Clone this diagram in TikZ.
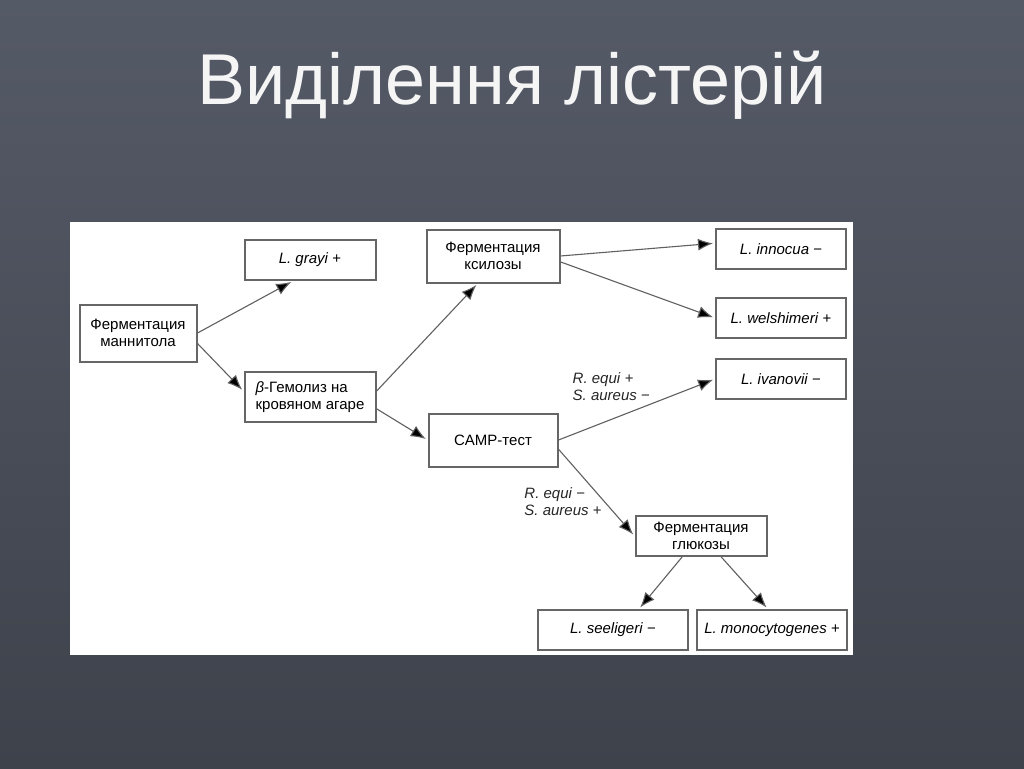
\documentclass[tikz,border=0pt]{standalone}
\usepackage{fontspec}
\setmainfont{Liberation Sans}
\usetikzlibrary{positioning}
\usetikzlibrary{arrows.meta}
\definecolor{boardtop}{HTML}{555A67}
\definecolor{boardbot}{HTML}{3E424B}
\definecolor{boxline}{HTML}{666666}
\definecolor{arrline}{HTML}{606060}
\tikzstyle{box} = [rectangle,draw=boxline,line width=2pt,fill=white,align=center,minimum width=130pt,minimum height=40pt,inner sep=2pt]
\tikzstyle{note} = [align=left,inner sep=2pt,text=black!85]

\begin{document}
\begin{tikzpicture}[x=1pt,y=-1pt,font=\fontsize{15}{17}\selectfont]

	\tikzstyle{arrow}=[-{Latex[length=15pt,width=12pt,fill=black]},color=arrline,line width=1.1pt,shorten >=2pt];

	% board and panel
	\fill[top color=boardtop,bottom color=boardbot] (0,0) rectangle (1024,768);
	\fill[white] (70,222) rectangle (853,655);
	\node (title) [anchor=base,text=white!96!black,font=\fontsize{72}{78}\selectfont] at (512,104) {Виділення лістерій};

	\node (mann) [box,minimum width=117pt,minimum height=57pt] at (138,333) {Ферментация\\маннитола};
	\node (grayi) [box,minimum width=131pt] at (310,260) {\textit{L. grayi} +};
	\node (beta) [box,minimum width=131pt,minimum height=50pt,align=left,below=90pt of grayi] {\textit{β}-Гемолиз на\\кровяном агаре};
	\node (xyl) [box,minimum width=133pt,minimum height=53pt] at (493,256) {Ферментация\\ксилозы};
	\node (camp) [box,minimum width=129pt,minimum height=53pt,below=129pt of xyl] {CAMP-тест};
	\node (inn) [box] at (781,249) {\textit{L. innocua} −};
	\node (wel) [box,below=27pt of inn] {\textit{L. welshimeri} +};
	\node (ivan) [box,below=19pt of wel] {\textit{L. ivanovii} −};
	\node (gluc) [box,minimum width=131pt] at (701,536) {Ферментация\\глюкозы};
	\node (seel) [box,minimum width=150pt] at (613,630) {\textit{L. seeligeri} −};
	\node (mono) [box,minimum width=150pt,right=7pt of seel] {\textit{L. monocytogenes} +};

	\path[arrow]
		(mann.east) edge (grayi.231)
		(mann.-10) edge (beta.175)
		(beta.5) edge (xyl.241)
		(beta.-10) edge (camp.west)
		(xyl.east) edge (inn.175)
		(xyl.-5) edge (wel.west)
		(camp.east) edge node[note,above left,pos=0.6] {\textit{R. equi} +\\\textit{S. aureus} −} (ivan.west)
		(camp.-8) edge node[note,left,pos=0.6] {\textit{R. equi} −\\\textit{S. aureus} +} (gluc.west)
		(gluc.228) edge (seel.39)
		(gluc.-46) edge (mono.101);
\end{tikzpicture}
\end{document}
